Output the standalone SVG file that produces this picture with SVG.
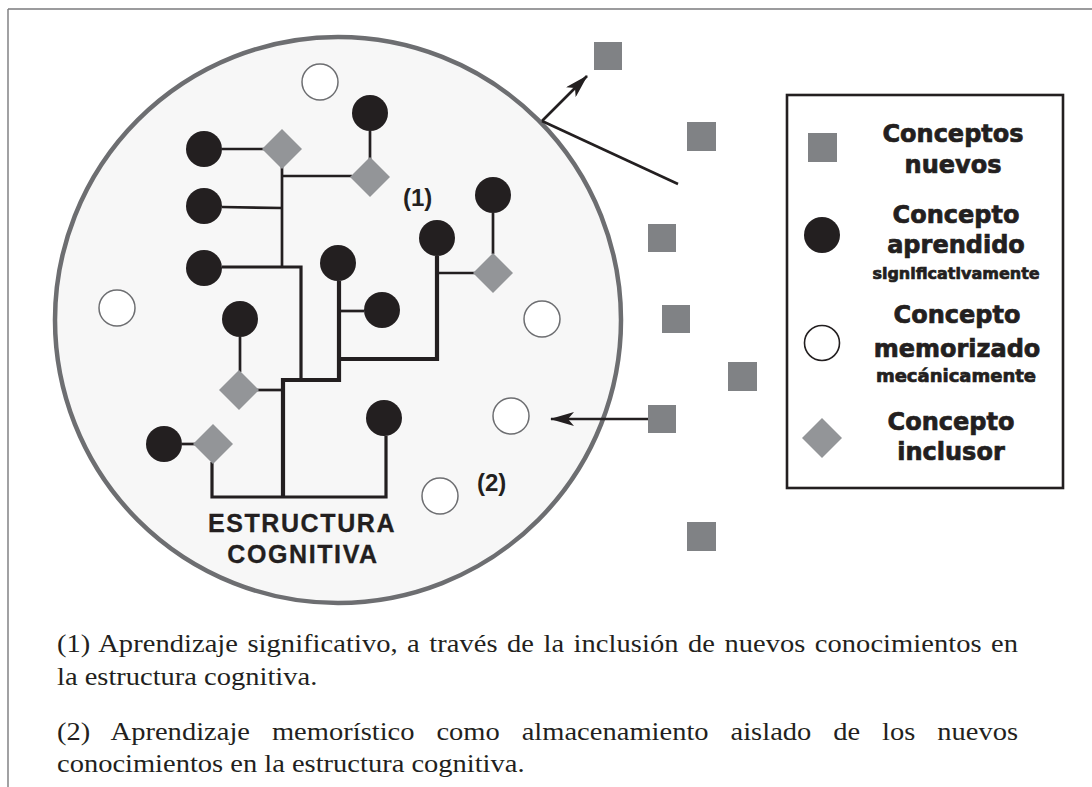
<svg xmlns="http://www.w3.org/2000/svg" width="1092" height="787" viewBox="0 0 1092 787">
<style>
.blk{fill:#231f20}
.wht{fill:#ffffff;stroke:#6d6e71;stroke-width:1.5}
.dia{fill:#939598}
.sq{fill:#808285}
.thin{fill:none;stroke:#231f20;stroke-width:2.7}
.mid{fill:none;stroke:#231f20;stroke-width:3.2}
.thick{fill:none;stroke:#231f20;stroke-width:4.2}
.arr{fill:none;stroke:#231f20;stroke-width:2.6}
.lbl{font-family:"Liberation Sans",Arial,sans-serif;font-weight:bold;fill:#231f20}
.leg{font-family:"DejaVu Sans",sans-serif;font-weight:bold;fill:#231f20;stroke:#231f20;stroke-width:0.7;text-anchor:middle}
.body{font-family:"Liberation Serif","Times New Roman",serif;font-size:25px;fill:#231f20}
</style>
<defs>
<marker id="ah" viewBox="0 0 24 14" refX="23" refY="7" markerWidth="24" markerHeight="14" markerUnits="userSpaceOnUse" orient="auto">
<path d="M0,0 L24,7 L0,14 L6,7 Z" fill="#231f20"/>
</marker>
</defs>
<rect width="1092" height="787" fill="#ffffff"/>
<g id="frame" fill="none" stroke="#7a7a7c" stroke-width="1.4">
<line x1="8" y1="9" x2="1092" y2="9"/>
<line x1="8" y1="9" x2="8" y2="787"/>
</g>
<g id="cognitive-structure">
<circle cx="338" cy="320" r="283" fill="#f7f7f7" stroke="#6d6e71" stroke-width="4.5"/>
</g>
<g id="connectors">
<line class="thin" x1="222" y1="149" x2="264" y2="149"/>
<line class="thin" x1="370" y1="131" x2="370" y2="159"/>
<path class="thin" d="M282,167 V267"/>
<line class="thin" x1="282" y1="176" x2="352" y2="176"/>
<line class="thin" x1="222" y1="207" x2="282" y2="208"/>
<path class="mid" d="M222,267 H301 V380"/>
<path class="thick" d="M283,497 V380 H339 V281"/>
<path class="thick" d="M339,359 H437 V256"/>
<line class="thin" x1="339" y1="311" x2="364" y2="311"/>
<line class="thin" x1="437" y1="273" x2="475" y2="273"/>
<line class="thin" x1="493" y1="213" x2="493" y2="254"/>
<line class="thin" x1="240" y1="337" x2="240" y2="372"/>
<line class="thin" x1="257" y1="390" x2="283" y2="390"/>
<line class="thin" x1="182" y1="444" x2="195" y2="444"/>
<path class="mid" d="M212,462 V497 H386 V436"/>
<line class="arr" x1="542" y1="121" x2="587" y2="76" marker-end="url(#ah)"/>
<line class="arr" x1="542" y1="121" x2="678" y2="184"/>
<line class="arr" x1="648" y1="419" x2="551" y2="419" marker-end="url(#ah)"/>
</g>
<g id="learned-concepts">
<circle class="blk" cx="204" cy="149" r="18"/>
<circle class="blk" cx="204" cy="206" r="18"/>
<circle class="blk" cx="204" cy="268" r="18"/>
<circle class="blk" cx="370" cy="113" r="18"/>
<circle class="blk" cx="338" cy="263" r="18"/>
<circle class="blk" cx="382" cy="310" r="18"/>
<circle class="blk" cx="437" cy="238" r="18"/>
<circle class="blk" cx="493" cy="195" r="18"/>
<circle class="blk" cx="240" cy="319" r="18"/>
<circle class="blk" cx="164" cy="444" r="18"/>
<circle class="blk" cx="384" cy="418" r="18"/>
</g>
<g id="inclusive-concepts">
<polygon class="dia" points="282,129 302,149 282,169 262,149"/>
<polygon class="dia" points="370,157 390,177 370,197 350,177"/>
<polygon class="dia" points="493,253 513,273 493,293 473,273"/>
<polygon class="dia" points="239,370 259,390 239,410 219,390"/>
<polygon class="dia" points="213,424 233,444 213,464 193,444"/>
</g>
<g id="memorized-concepts">
<circle class="wht" cx="320" cy="82" r="18"/>
<circle class="wht" cx="117" cy="308" r="18"/>
<circle class="wht" cx="542" cy="319" r="18"/>
<circle class="wht" cx="511" cy="416" r="18"/>
<circle class="wht" cx="440" cy="496" r="18"/>
</g>
<g id="new-concepts">
<rect class="sq" x="594" y="42" width="28" height="28"/>
<rect class="sq" x="687" y="122" width="29" height="29"/>
<rect class="sq" x="648" y="224" width="28" height="28"/>
<rect class="sq" x="662" y="305" width="28" height="28"/>
<rect class="sq" x="728" y="362" width="29" height="29"/>
<rect class="sq" x="648" y="405" width="28" height="28"/>
<rect class="sq" x="687" y="522" width="29" height="29"/>
</g>
<g id="labels">
<text class="lbl" x="403" y="206" font-size="24">(1)</text>
<text class="lbl" x="477" y="491" font-size="24">(2)</text>
<text class="lbl" x="302" y="532" font-size="25" letter-spacing="1.6" text-anchor="middle" stroke="#231f20" stroke-width="0.3">ESTRUCTURA</text>
<text class="lbl" x="303" y="563" font-size="25" letter-spacing="1.6" text-anchor="middle" stroke="#231f20" stroke-width="0.3">COGNITIVA</text>
</g>
<g id="legend">
<rect x="787" y="95" width="276" height="393" fill="#ffffff" stroke="#231f20" stroke-width="2.6"/>
<rect class="sq" x="808" y="133" width="29" height="29"/>
<circle class="blk" cx="822" cy="235" r="18"/>
<circle cx="822" cy="343" r="17.5" fill="#ffffff" stroke="#231f20" stroke-width="1.6"/>
<polygon class="dia" points="822,418 842,438 822,458 802,438"/>
<text class="leg" x="953" y="142" font-size="24">Conceptos</text>
<text class="leg" x="953" y="173" font-size="24">nuevos</text>
<text class="leg" x="956" y="223" font-size="24">Concepto</text>
<text class="leg" x="956" y="253" font-size="24">aprendido</text>
<text class="leg" x="956" y="279" font-size="16" stroke-width="0.25">significativamente</text>
<text class="leg" x="957" y="323" font-size="24">Concepto</text>
<text class="leg" x="957" y="357" font-size="24">memorizado</text>
<text class="leg" x="956" y="382" font-size="18" stroke-width="0.3">mecánicamente</text>
<text class="leg" x="951" y="430" font-size="24">Concepto</text>
<text class="leg" x="951" y="460" font-size="24">inclusor</text>
</g>
<g id="notes" transform="translate(57,0) scale(1.14,1)">
<text class="body" x="0" y="652" word-spacing="2" textLength="843" lengthAdjust="spacing">(1) Aprendizaje significativo, a través de la inclusión de nuevos conocimientos en</text>
<text class="body" x="0" y="685">la estructura cognitiva.</text>
<text class="body" x="0" y="740" word-spacing="12.9" textLength="843" lengthAdjust="spacing">(2) Aprendizaje memorístico como almacenamiento aislado de los nuevos</text>
<text class="body" x="0" y="772">conocimientos en la estructura cognitiva.</text>
</g>
</svg>
